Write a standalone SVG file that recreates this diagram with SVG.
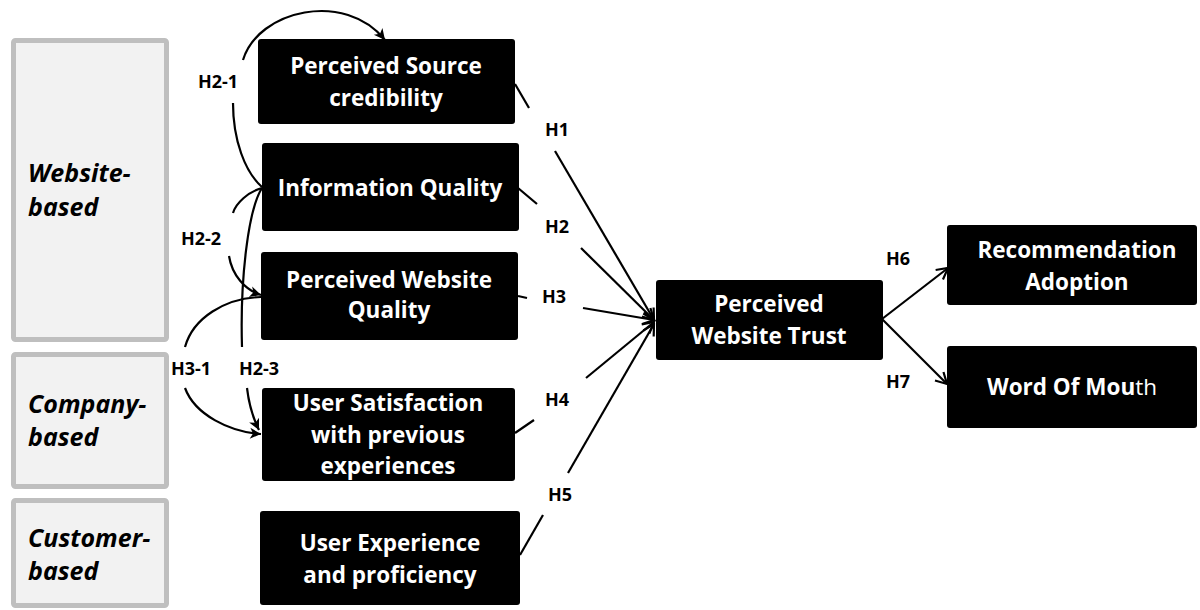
<svg xmlns="http://www.w3.org/2000/svg" width="1200" height="610" viewBox="0 0 1200 610">
<defs>
<style>
.cat{fill:#f2f2f2;stroke:#bfbfbf;stroke-width:5}
.cattxt{font-family:"Open Sans","Liberation Sans",sans-serif;font-weight:700;font-style:italic;font-size:25px;fill:#000}
.box{fill:#000}
.ntxt{font-family:"Open Sans","Liberation Sans",sans-serif;font-weight:700;font-size:22.5px;fill:#fff;text-anchor:middle}
.lbl{font-family:"Open Sans","Liberation Sans",sans-serif;font-weight:700;font-size:18px;fill:#000}
.c{fill:none;stroke:#000;stroke-width:2.2}
</style>
<marker id="open" markerUnits="userSpaceOnUse" markerWidth="16" markerHeight="16" viewBox="0 0 16 16" refX="14" refY="8" orient="auto">
<path d="M3,2 L14,8 L3,14" fill="none" stroke="#000" stroke-width="2.2"/>
</marker>
<marker id="tri" markerUnits="userSpaceOnUse" markerWidth="14" markerHeight="14" viewBox="0 0 14 14" refX="12" refY="7" orient="auto">
<path d="M1,1.5 L12,7 L1,12.5 L4,7 Z" fill="#000"/>
</marker>
</defs>

<g id="category-website">
<rect class="cat" x="13.5" y="40.5" width="153" height="299" rx="2"/>
<text class="cattxt" x="28" y="182">Website-</text>
<text class="cattxt" x="28" y="216">based</text>
</g>
<g id="category-company">
<rect class="cat" x="13.5" y="354.5" width="153" height="132" rx="2"/>
<text class="cattxt" x="28" y="413">Company-</text>
<text class="cattxt" x="28" y="446">based</text>
</g>
<g id="category-customer">
<rect class="cat" x="13.5" y="500.5" width="153" height="105" rx="2"/>
<text class="cattxt" x="28" y="547">Customer-</text>
<text class="cattxt" x="28" y="580">based</text>
</g>

<g id="connectors">
<!-- H1..H5 to trust -->
<line class="c" x1="515" y1="84" x2="529" y2="108"/>
<line class="c" x1="555" y1="151" x2="654" y2="320" marker-end="url(#open)"/>
<line class="c" x1="518" y1="188" x2="537" y2="204"/>
<line class="c" x1="581" y1="248" x2="654" y2="320" marker-end="url(#open)"/>
<line class="c" x1="518" y1="296" x2="527" y2="298"/>
<line class="c" x1="583" y1="308" x2="654" y2="320" marker-end="url(#open)"/>
<line class="c" x1="515" y1="433" x2="534" y2="420"/>
<line class="c" x1="586" y1="378" x2="654" y2="322" marker-end="url(#open)"/>
<line class="c" x1="520" y1="555" x2="543" y2="515"/>
<line class="c" x1="568" y1="473" x2="654" y2="324" marker-end="url(#open)"/>
<!-- H6, H7 -->
<line class="c" x1="882" y1="319" x2="948" y2="268" marker-end="url(#open)"/>
<line class="c" x1="882" y1="319" x2="947" y2="384" marker-end="url(#open)"/>
<!-- H2-1 -->
<path class="c" d="M262,187 C245,172 233,140 233,103"/>
<path class="c" d="M243,60 C258,10 345,-10 385,40" marker-end="url(#tri)"/>
<!-- H2-2 -->
<path class="c" d="M262,188 C248,192 236,203 233,213"/>
<path class="c" d="M229,256 C232,275 245,290 261,295" marker-end="url(#tri)"/>
<!-- H2-3 -->
<path class="c" d="M262,188 C248,210 240,280 242,347"/>
<path class="c" d="M247,388 C249,405 253,418 259,430" marker-end="url(#tri)"/>
<!-- H3-1 -->
<path class="c" d="M261,297 C225,298 193,318 185,347"/>
<path class="c" d="M185,388 C195,415 230,432 261,434" marker-end="url(#tri)"/>
</g>

<g id="labels">
<text class="lbl" x="198" y="88">H2-1</text>
<text class="lbl" x="181" y="245">H2-2</text>
<text class="lbl" x="171" y="375">H3-1</text>
<text class="lbl" x="239" y="375">H2-3</text>
<text class="lbl" x="545" y="136">H1</text>
<text class="lbl" x="545" y="233">H2</text>
<text class="lbl" x="542" y="303">H3</text>
<text class="lbl" x="545" y="406">H4</text>
<text class="lbl" x="548" y="501">H5</text>
<text class="lbl" x="886" y="265">H6</text>
<text class="lbl" x="886" y="388">H7</text>
</g>

<g id="node-source-credibility">
<rect class="box" x="258" y="39" width="257" height="85" rx="3"/>
<text class="ntxt" x="386" y="74">Perceived Source</text>
<text class="ntxt" x="386" y="106">credibility</text>
</g>
<g id="node-information-quality">
<rect class="box" x="262" y="143" width="257" height="88" rx="3"/>
<text class="ntxt" x="390" y="196">Information Quality</text>
</g>
<g id="node-website-quality">
<rect class="box" x="261" y="252" width="257" height="88" rx="3"/>
<text class="ntxt" x="389" y="288">Perceived Website</text>
<text class="ntxt" x="389" y="318">Quality</text>
</g>
<g id="node-user-satisfaction">
<rect class="box" x="262" y="388" width="253" height="93" rx="3"/>
<text class="ntxt" x="388" y="411">User Satisfaction</text>
<text class="ntxt" x="388" y="443">with previous</text>
<text class="ntxt" x="388" y="474">experiences</text>
</g>
<g id="node-user-experience">
<rect class="box" x="260" y="511" width="260" height="94" rx="3"/>
<text class="ntxt" x="390" y="551">User Experience</text>
<text class="ntxt" x="390" y="583">and proficiency</text>
</g>
<g id="node-website-trust">
<rect class="box" x="656" y="280" width="227" height="80" rx="3"/>
<text class="ntxt" x="769" y="312">Perceived</text>
<text class="ntxt" x="769" y="344">Website Trust</text>
</g>
<g id="node-recommendation-adoption">
<rect class="box" x="947" y="225" width="250" height="80" rx="3"/>
<text class="ntxt" x="1077" y="258">Recommendation</text>
<text class="ntxt" x="1077" y="290">Adoption</text>
</g>
<g id="node-word-of-mouth">
<rect class="box" x="947" y="346" width="250" height="82" rx="3"/>
<text class="ntxt" x="1072" y="395">Word Of Mou<tspan font-weight="400">th</tspan></text>
</g>
</svg>
